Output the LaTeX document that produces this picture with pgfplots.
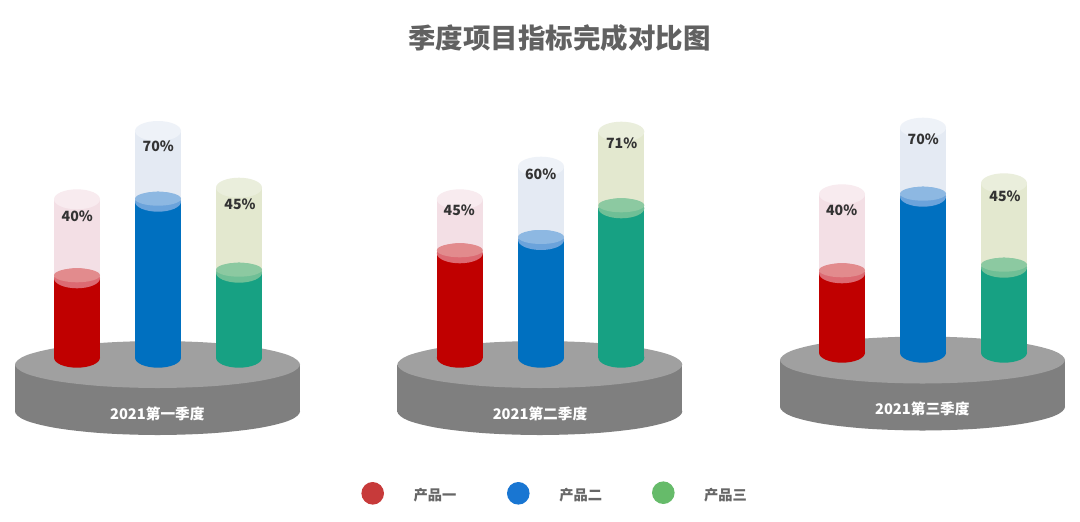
\documentclass[border=0pt]{standalone}
\usepackage{fontspec}
\setmainfont{Noto Sans CJK SC}
\usepackage{pgfplots}
\pgfplotsset{compat=1.18}

\definecolor{plattop}{HTML}{A0A0A0}
\definecolor{platside}{HTML}{7F7F7F}
\definecolor{redS}{HTML}{C00000}
\definecolor{redD}{HTML}{DC6A72}
\definecolor{redL}{HTML}{E28B8D}
\definecolor{redG}{HTML}{F3DFE5}
\definecolor{redC}{HTML}{F8EBEF}
\definecolor{blueS}{HTML}{0070C0}
\definecolor{blueD}{HTML}{6BA3DB}
\definecolor{blueL}{HTML}{8DB8E2}
\definecolor{blueG}{HTML}{E4EAF3}
\definecolor{blueC}{HTML}{EEF2F8}
\definecolor{greenS}{HTML}{17A183}
\definecolor{greenD}{HTML}{6FBF96}
\definecolor{greenL}{HTML}{8CC9A1}
\definecolor{greenG}{HTML}{E3E8CF}
\definecolor{greenC}{HTML}{EAEEDC}
\definecolor{legR}{HTML}{C73A3A}
\definecolor{legB}{HTML}{1976D2}
\definecolor{legG}{HTML}{66BB6A}

% disc: x, y, rx, ry, colour (all in picture pixels)
\newcommand{\disc}[5]{%
  \addplot[draw=none, fill=#5, smooth cycle, tension=0.55] coordinates {
    ({#1+#3},{#2})
    ({#1+#3*0.9239},{#2+#4*0.3827})
    ({#1+#3*0.7071},{#2+#4*0.7071})
    ({#1+#3*0.3827},{#2+#4*0.9239})
    ({#1},{#2+#4})
    ({#1-#3*0.3827},{#2+#4*0.9239})
    ({#1-#3*0.7071},{#2+#4*0.7071})
    ({#1-#3*0.9239},{#2+#4*0.3827})
    ({#1-#3},{#2})
    ({#1-#3*0.9239},{#2-#4*0.3827})
    ({#1-#3*0.7071},{#2-#4*0.7071})
    ({#1-#3*0.3827},{#2-#4*0.9239})
    ({#1},{#2-#4})
    ({#1+#3*0.3827},{#2-#4*0.9239})
    ({#1+#3*0.7071},{#2-#4*0.7071})
    ({#1+#3*0.9239},{#2-#4*0.3827})
  };}
% cylinder: x, base, level, full, colour prefix
\newcommand{\cyl}[5]{%
  \addplot[draw=none, fill=#5G] coordinates {({#1-23},#4)({#1+23},#4)({#1+23},#3)({#1-23},#3)};
  \disc{#1}{#4}{23}{10}{#5C}
  \addplot[draw=none, fill=#5S] coordinates {({#1-23},#3)({#1+23},#3)({#1+23},#2)({#1-23},#2)};
  \disc{#1}{#2}{23}{10}{#5S}
  \disc{#1}{#3}{23}{10}{#5D}
  \disc{#1}{#3-3}{23}{7}{#5L}}
% platform: x, top ellipse centre, bottom ellipse centre
\newcommand{\platform}[3]{%
  \disc{#1}{#3}{142.5}{23.5}{platside}
  \addplot[draw=none, fill=platside] coordinates {({#1-142.5},#2)({#1+142.5},#2)({#1+142.5},#3)({#1-142.5},#3)};
  \disc{#1}{#2}{142.5}{23.5}{plattop}}

\begin{document}
\begin{tikzpicture}
\begin{axis}[
    x=0.75pt, y=0.75pt,
    xmin=0, xmax=1080, ymin=0, ymax=521,
    y dir=reverse,
    hide axis,
    clip=false,
    point meta=explicit symbolic,
]
% page background keeps the full extent
\addplot[draw=none, fill=white] coordinates {(0,0)(1080,0)(1080,521)(0,521)};

% first quarter
\platform{157.5}{364.5}{411.5}
\cyl{77}{357.7}{278.3}{199.3}{red}
\cyl{158}{357.7}{201.7}{131}{blue}
\cyl{239}{357.7}{272.7}{187.7}{green}

% second quarter
\platform{539.8}{364.5}{411.5}
\cyl{459.8}{357.7}{253.3}{199.3}{red}
\cyl{541}{357.7}{240}{166.7}{blue}
\cyl{621.3}{357.7}{208.3}{131.7}{green}

% third quarter
\platform{922.5}{360}{407}
\cyl{842}{352.7}{273.3}{194.3}{red}
\cyl{923}{352.7}{196.7}{127.7}{blue}
\cyl{1004}{352.7}{267.7}{183.3}{green}

% percentage labels
\addplot[draw=none, mark=none, nodes near coords, nodes near coords align=center,
    every node near coord/.append style={font=\fontsize{10.6}{12}\selectfont\bfseries, text=black!80}]
  coordinates {
    (77.3,216.7) [40\%]
    (158.3,146) [70\%]
    (240,204) [45\%]
    (459.3,210) [45\%]
    (540.7,174.3) [60\%]
    (621.7,143.3) [71\%]
    (841.7,210) [40\%]
    (923.3,139.3) [70\%]
    (1005,196.7) [45\%]
  };

% platform labels
\addplot[draw=none, mark=none, nodes near coords, nodes near coords align=center,
    every node near coord/.append style={font=\fontsize{11}{12}\selectfont\bfseries, text=white}]
  coordinates {
    (157.3,414) [2021第一季度]
    (540,414) [2021第二季度]
    (922.3,409) [2021第三季度]
  };

% legend
\disc{372.7}{493.3}{11.3}{11.3}{legR}
\disc{518.3}{493.3}{11.3}{11.3}{legB}
\disc{663.3}{492.7}{11.3}{11.3}{legG}
\addplot[draw=none, mark=none, nodes near coords, nodes near coords align=center,
    every node near coord/.append style={font=\fontsize{10.7}{12}\selectfont\bfseries, text=black!60}]
  coordinates {
    (435,495) [产品一]
    (580.7,495) [产品二]
    (725.5,495) [产品三]
  };

% title
\addplot[draw=none, mark=none, nodes near coords, nodes near coords align=center,
    every node near coord/.append style={font=\fontsize{20.6}{24}\selectfont\bfseries, text=black!62}]
  coordinates {(559.5,38) [季度项目指标完成对比图]};
\end{axis}
\end{tikzpicture}
\end{document}
